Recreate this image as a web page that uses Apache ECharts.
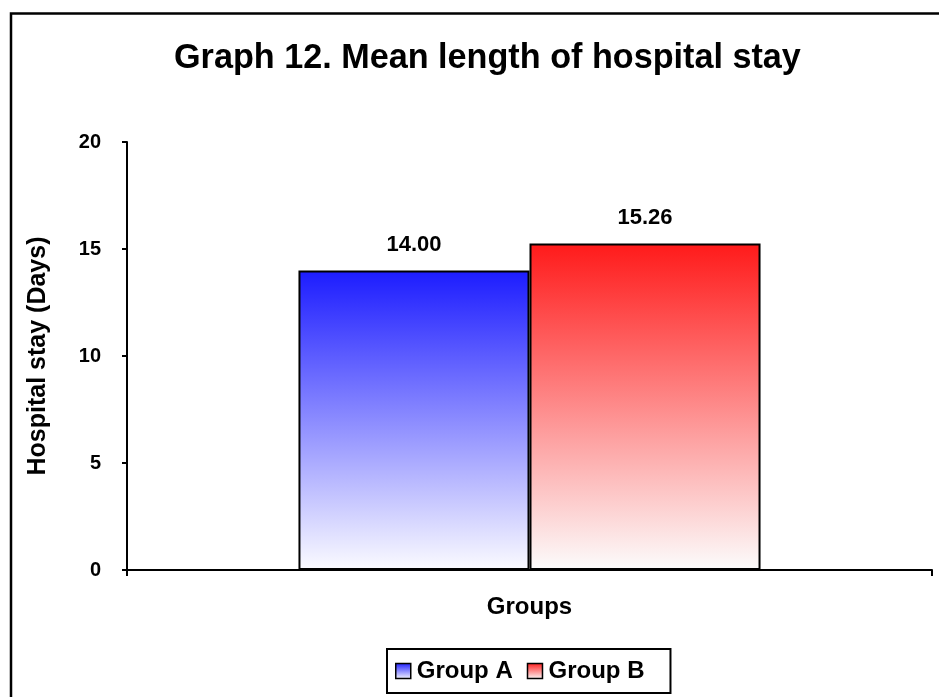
<!DOCTYPE html>
<html>
<head>
<meta charset="utf-8">
<script src="https://cdn.jsdelivr.net/npm/echarts@6/dist/echarts.min.js"></script>
<style>
  html, body { margin: 0; padding: 0; background: #ffffff; }
  #chart { width: 939px; height: 697px; }
</style>
</head>
<body>
<div id="chart"></div>
<script>
// Mean length of hospital stay per group (days)
const categories = ['Groups'];
const seriesNames = ['Group A', 'Group B'];
const groupA = [14.00];
const groupB = [15.26];
const yTicks = [0, 5, 10, 15, 20];

const FONT = '"Liberation Sans", Arial, sans-serif';

function fade(top, bottom) {
  return new echarts.graphic.LinearGradient(0, 0, 0, 1, [
    { offset: 0, color: top },
    { offset: 1, color: bottom }
  ]);
}

const blueFill = fade('#1c1cff', '#fbfbff');
const redFill = fade('#ff1a1a', '#fcfcfc');

const chart = echarts.init(document.getElementById('chart'), null, { renderer: 'canvas' });

const labelStyle = {
  show: true,
  position: 'top',
  distance: 14,
  formatter: p => p.value.toFixed(2),
  color: '#000',
  fontFamily: FONT,
  fontWeight: 'bold',
  fontSize: 22
};

chart.setOption({
  backgroundColor: '#ffffff',
  animation: false,
  title: {
    text: 'Graph 12. Mean length of hospital stay',
    left: 174,
    top: 42,
    padding: 0,
    textStyle: { fontFamily: FONT, fontWeight: 'bold', fontSize: 34.2, color: '#000' }
  },
  graphic: [{
    type: 'rect',
    shape: { x: 11, y: 13.5, width: 2000, height: 2000 },
    style: { fill: 'none', stroke: '#000', lineWidth: 2.5 },
    silent: true
  }],
  legend: {
    data: seriesNames,
    left: 387,
    top: 649,
    padding: [10, 26, 10, 8],
    itemGap: 14,
    itemWidth: 15,
    itemHeight: 15,
    icon: 'rect',
    borderColor: '#000',
    borderWidth: 2,
    itemStyle: { borderColor: '#000', borderWidth: 1.5 },
    textStyle: { fontFamily: FONT, fontWeight: 'bold', fontSize: 24, color: '#000', padding: [0, 0, 0, 1] }
  },
  grid: { left: 127, right: 7, top: 142, bottom: 127 },
  xAxis: {
    type: 'category',
    data: categories,
    name: categories[0],
    nameLocation: 'middle',
    nameGap: 25,
    nameTextStyle: { fontFamily: FONT, fontWeight: 'bold', fontSize: 24, color: '#000' },
    axisLine: { lineStyle: { color: '#000', width: 2 } },
    axisTick: { show: true, length: 6, lineStyle: { color: '#000', width: 2 } },
    axisLabel: { show: false }
  },
  yAxis: {
    type: 'value',
    min: yTicks[0],
    max: yTicks[yTicks.length - 1],
    interval: yTicks[1] - yTicks[0],
    name: 'Hospital stay (Days)',
    nameLocation: 'middle',
    nameGap: 76,
    nameTextStyle: { fontFamily: FONT, fontWeight: 'bold', fontSize: 25, color: '#000' },
    axisLine: { show: true, lineStyle: { color: '#000', width: 2 } },
    axisTick: { show: true, length: 5, lineStyle: { color: '#000', width: 2 } },
    axisLabel: { margin: 26, fontFamily: FONT, fontWeight: 'bold', fontSize: 20, color: '#000' },
    splitLine: { show: false }
  },
  series: [
    {
      name: seriesNames[0],
      type: 'bar',
      data: groupA,
      barGap: '0%',
      barCategoryGap: '42.6%',
      itemStyle: { color: blueFill, borderColor: '#000', borderWidth: 2 },
      label: labelStyle
    },
    {
      name: seriesNames[1],
      type: 'bar',
      data: groupB,
      barGap: '0%',
      barCategoryGap: '42.6%',
      itemStyle: { color: redFill, borderColor: '#000', borderWidth: 2 },
      label: labelStyle
    }
  ]
});
</script>
</body>
</html>
